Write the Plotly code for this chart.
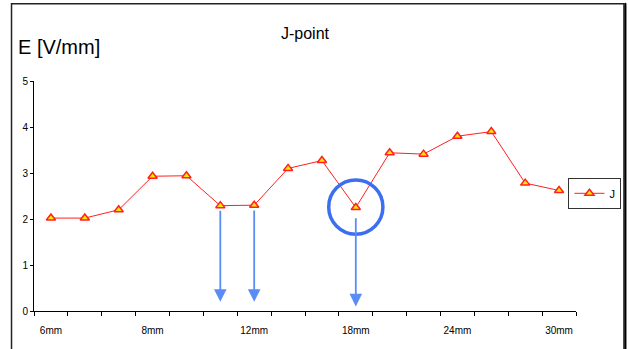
import plotly.graph_objects as go

# ---- data ----
positions = list(range(1, 17))
values = [2.02, 2.02, 2.20, 2.93, 2.94, 2.29, 2.30, 3.10,
          3.27, 2.25, 3.44, 3.41, 3.80, 3.90, 2.78, 2.62]
tick_positions = [1, 4, 7, 10, 13, 16]
tick_labels = ["6mm", "8mm", "12mm", "18mm", "24mm", "30mm"]
y_ticks = [0, 1, 2, 3, 4, 5]
arrow_points = [6, 7, 10]      # 1-based categories marked with arrows
circled_point = 10

W, H = 629, 349
L, T = 34, 80.7
R = W - 576.5
B = H - 310.7
narrow = "Liberation Sans Narrow, Arial Narrow, Liberation Sans, sans-serif"

fig = go.Figure()
fig.add_trace(go.Scatter(
    x=positions, y=values, mode="lines+markers", name="J",
    line=dict(color="#ff2020", width=1),
    marker=dict(symbol="triangle-up", size=8, color="#ffe600",
                line=dict(color="#ff2020", width=1.5)),
))

# arrows
for p in arrow_points:
    v = values[p - 1]
    start = v - 0.08 if p != circled_point else v - 0.2
    end = 0.2 if p != circled_point else 0.1
    fig.add_annotation(x=p, y=end, ax=p, ay=start, xref="x", yref="y",
                       axref="x", ayref="y", text="", showarrow=True,
                       arrowhead=2, arrowsize=1.4, arrowwidth=1.8,
                       arrowcolor="#5a8cf5")

# circle around the J-point
cv = values[circled_point - 1]
fig.add_shape(type="circle", xref="x", yref="y",
              x0=circled_point - 0.8, x1=circled_point + 0.8,
              y0=cv - 0.58, y1=cv + 0.6,
              line=dict(color="#3c6ff0", width=3.5))

# screen pixel -> paper coordinates
px = lambda xs: (xs - L) / (W - L - R)
py = lambda ys: (H - B - ys) / (H - T - B)

# outer frame
fig.add_shape(type="rect", xref="paper", yref="paper",
              x0=px(11.5), x1=px(624.5), y0=py(356), y1=py(3.5),
              line=dict(color="#222", width=1.5), fillcolor="rgba(0,0,0,0)",
              layer="below")
fig.add_shape(type="rect", xref="paper", yref="paper",
              x0=px(625.5), x1=px(626.5), y0=py(356), y1=py(3),
              line=dict(color="#000", width=1), fillcolor="#000")

fig.add_annotation(text="E [V/mm]", xref="paper", yref="paper",
                   x=px(16), y=py(47), xanchor="left", yanchor="middle",
                   showarrow=False, font=dict(family="Liberation Sans, Arial, sans-serif",
                                              size=20, color="#000"))

fig.update_layout(
    width=W, height=H,
    margin=dict(l=L, r=R, t=T, b=B, autoexpand=False),
    paper_bgcolor="#ffffff", plot_bgcolor="#ffffff",
    title=dict(text="J-point", x=0.5, xref="paper", xanchor="center",
               y=1 - 33 / H, yanchor="middle",
               font=dict(family="Liberation Sans, Arial, sans-serif", size=16, color="#000")),
    showlegend=True,
    legend=dict(x=px(622), xanchor="right", y=py(193), yanchor="middle",
                bordercolor="#333", borderwidth=1, bgcolor="#fff",
                itemwidth=30, font=dict(family=narrow, size=11, color="#000"),
                tracegroupgap=0),
    xaxis=dict(range=[0.5, 16.5], tickmode="array", tickvals=tick_positions,
               ticktext=tick_labels, ticks="", showgrid=False, zeroline=False,
               showline=True, linecolor="#000", linewidth=1, automargin=False,
               ticklabelstandoff=10,
               tickfont=dict(family=narrow, size=10, color="#000"),
               minor=dict(tickmode="linear", tick0=0.5, dtick=1, ticks="outside",
                          ticklen=4, tickcolor="#000", showgrid=False)),
    yaxis=dict(range=[0, 5], tickvals=y_ticks, ticks="outside", ticklen=3,
               tickcolor="#000", showgrid=False, zeroline=False, automargin=False,
               showline=True, linecolor="#000", linewidth=1,
               tickfont=dict(family=narrow, size=10, color="#000")),
)

fig.write_html("out.html", config={"displayModeBar": False},
               post_script="document.body.style.margin='0';"
                           "document.body.style.overflow='hidden';")
